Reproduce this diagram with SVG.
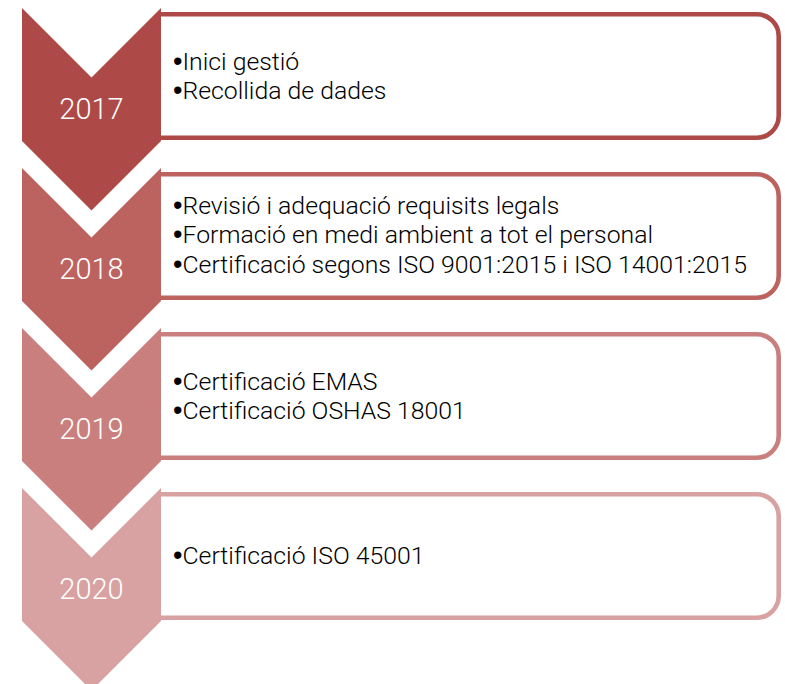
<svg xmlns="http://www.w3.org/2000/svg" width="785" height="684" viewBox="0 0 785 684">
<style>
.box{fill:#fff;stroke-width:4.6}
.year{font-family:Roboto,"Liberation Sans",sans-serif;font-weight:300;font-size:29px;fill:#fff;text-anchor:middle}
.item{font-family:Roboto,"Liberation Sans",sans-serif;font-weight:300;font-size:24.8px;fill:#000}
.b{font-family:"Liberation Sans",sans-serif;font-weight:400;font-size:27px}
</style>
<rect width="785" height="684" fill="#fff"/>
<g id="connectors"/>
<g id="step2017">
<path class="box" d="M161,14.3 H756.7 A22,22 0 0 1 778.7,36.3 V115.7 A22,22 0 0 1 756.7,137.7 H161" stroke="#AD4A47"/>
<polygon points="22,8 91.5,77.5 161,8 161,141 91.5,210.5 22,141" fill="#AD4A47"/>
<text class="year" x="91.5" y="119">2017</text>
<text class="item" x="173" y="70"><tspan class="b">•</tspan>Inici gestió</text>
<text class="item" x="173" y="99"><tspan class="b">•</tspan>Recollida de dades</text>
</g>
<g id="step2018">
<path class="box" d="M161,174.3 H756.7 A22,22 0 0 1 778.7,196.3 V275.7 A22,22 0 0 1 756.7,297.7 H161" stroke="#BC6360"/>
<polygon points="22,168 91.5,237.5 161,168 161,301 91.5,370.5 22,301" fill="#BC6360"/>
<text class="year" x="91.5" y="279">2018</text>
<text class="item" x="173" y="214"><tspan class="b">•</tspan>Revisió i adequació requisits legals</text>
<text class="item" x="173" y="243"><tspan class="b">•</tspan>Formació en medi ambient a tot el personal</text>
<text class="item" x="173" y="273"><tspan class="b">•</tspan>Certificació segons ISO 9001:2015 i ISO 14001:2015</text>
</g>
<g id="step2019">
<path class="box" d="M161,334.3 H756.7 A22,22 0 0 1 778.7,356.3 V435.7 A22,22 0 0 1 756.7,457.7 H161" stroke="#C97F7D"/>
<polygon points="22,328 91.5,397.5 161,328 161,461 91.5,530.5 22,461" fill="#C97F7D"/>
<text class="year" x="91.5" y="439">2019</text>
<text class="item" x="173" y="390"><tspan class="b">•</tspan>Certificació EMAS</text>
<text class="item" x="173" y="419"><tspan class="b">•</tspan>Certificació OSHAS 18001</text>
</g>
<g id="step2020">
<path class="box" d="M161,494.3 H756.7 A22,22 0 0 1 778.7,516.3 V595.7 A22,22 0 0 1 756.7,617.7 H161" stroke="#D9A2A2"/>
<polygon points="22,488 91.5,557.5 161,488 161,621 91.5,690.5 22,621" fill="#D9A2A2"/>
<text class="year" x="91.5" y="599">2020</text>
<text class="item" x="173" y="564"><tspan class="b">•</tspan>Certificació ISO 45001</text>
</g>
</svg>
